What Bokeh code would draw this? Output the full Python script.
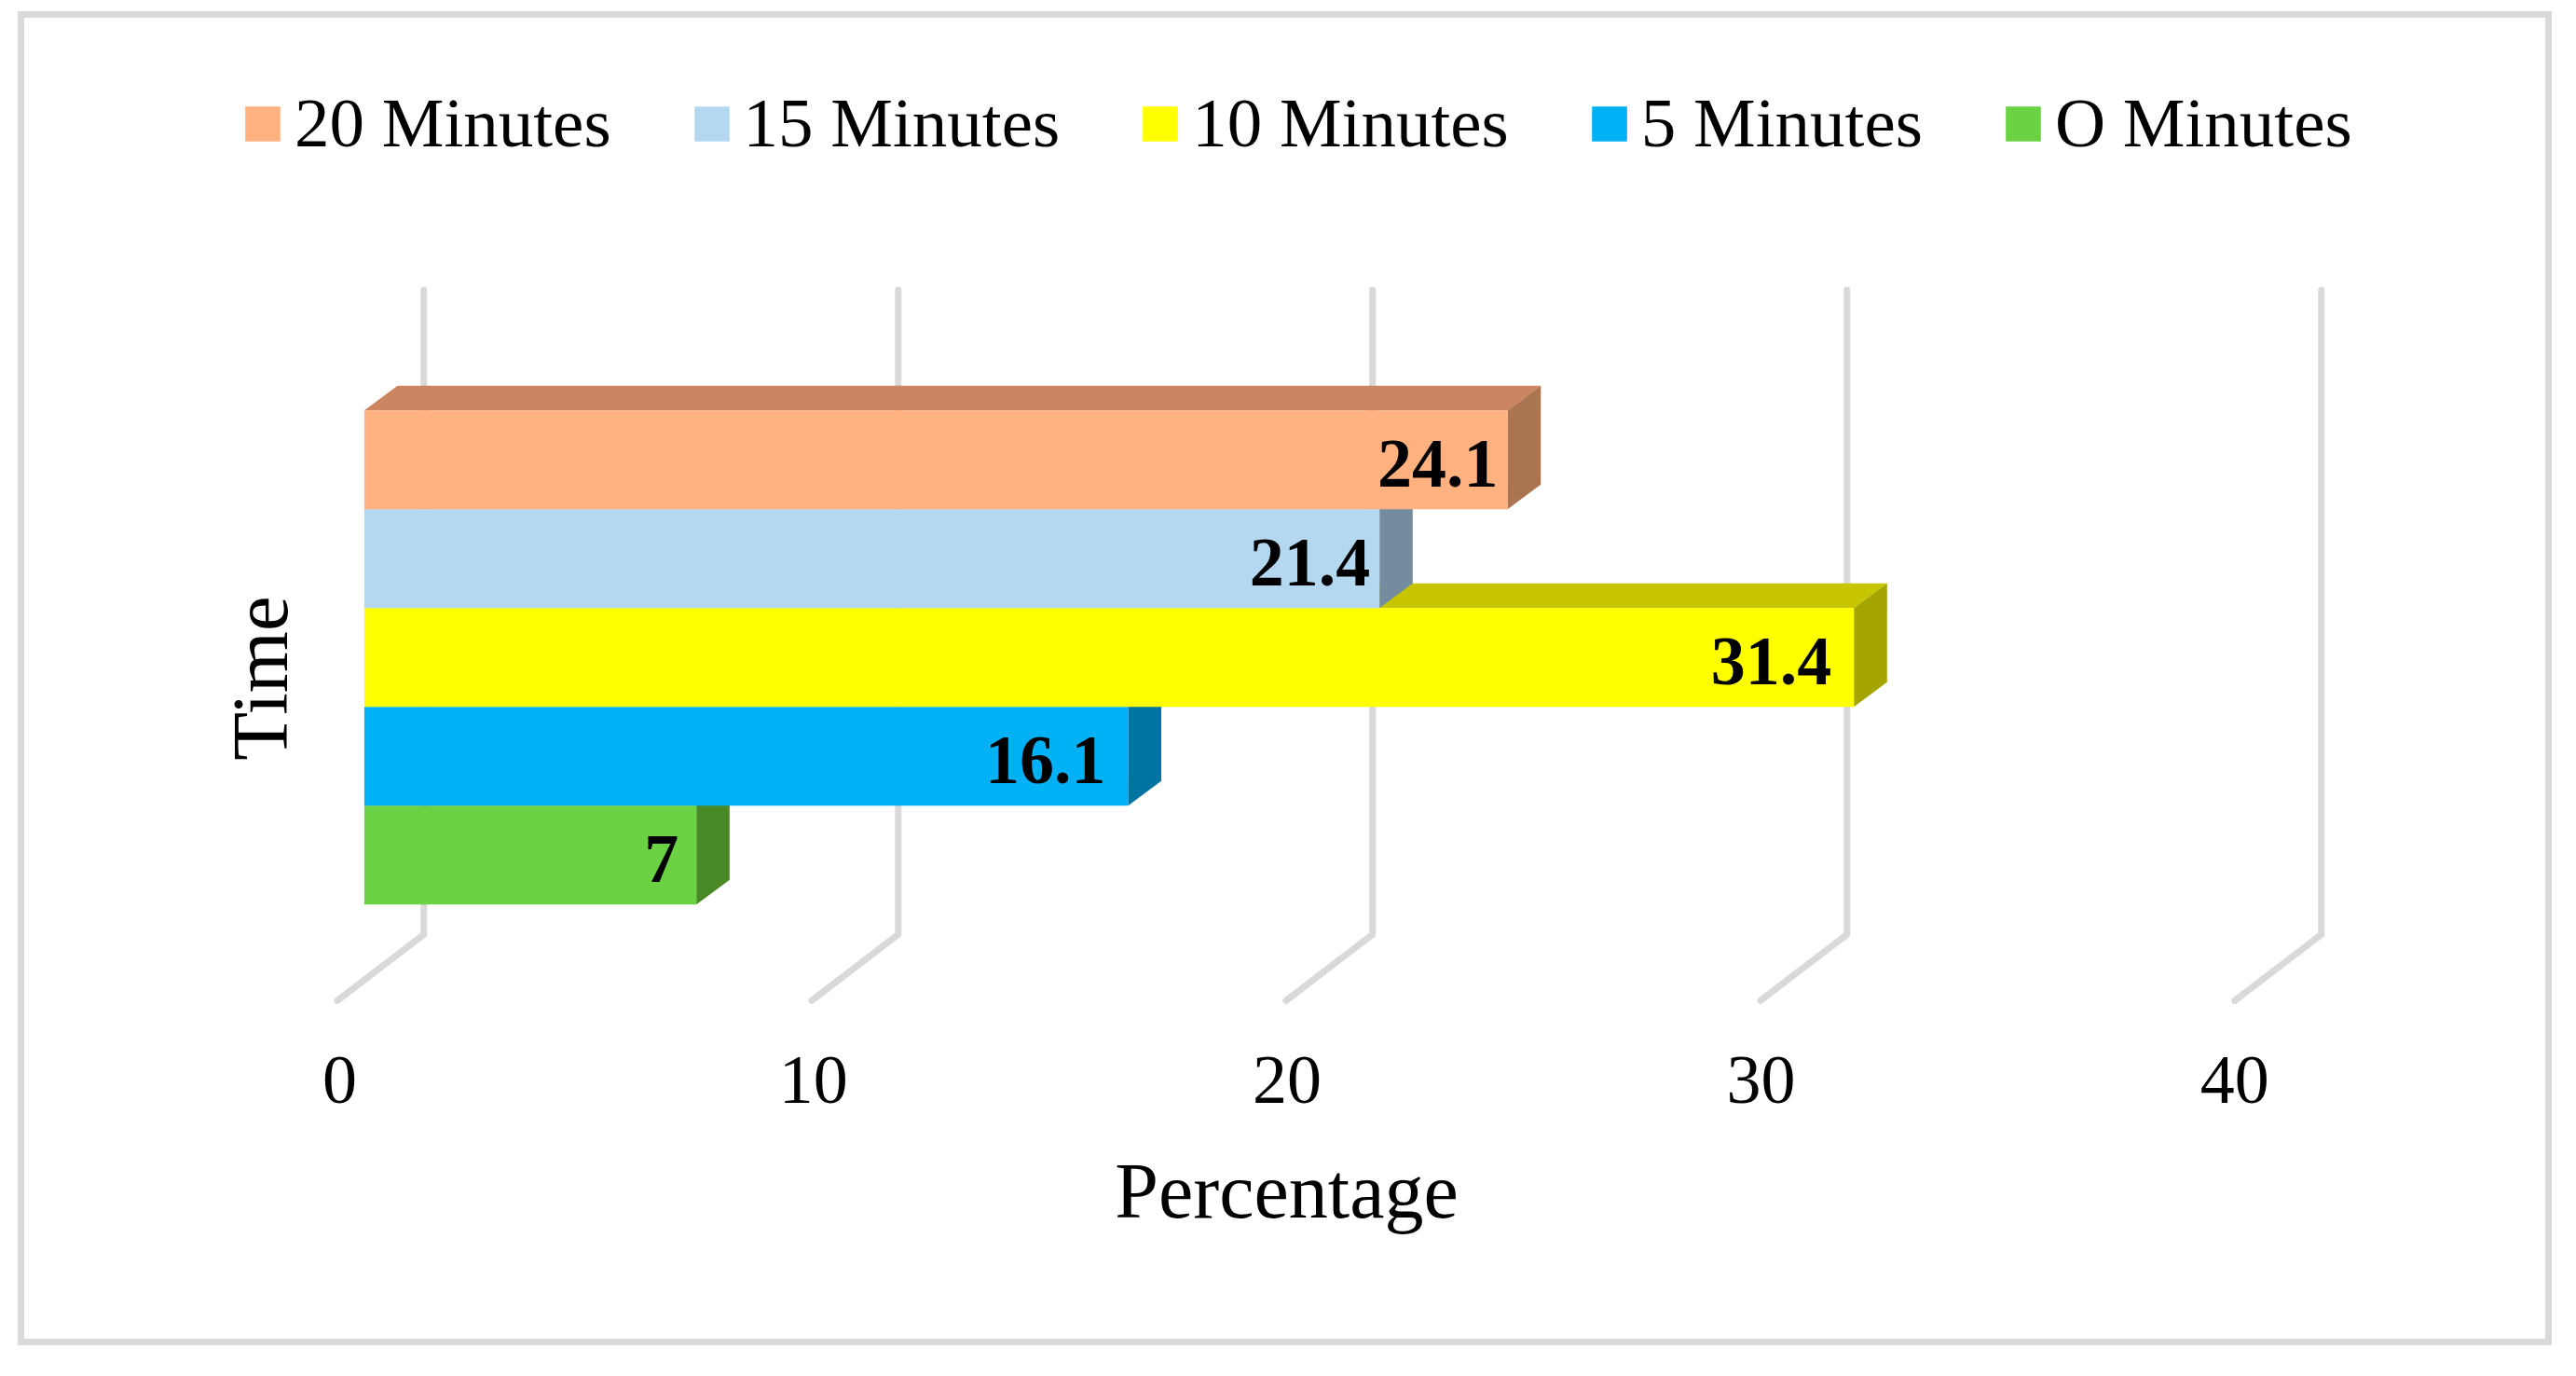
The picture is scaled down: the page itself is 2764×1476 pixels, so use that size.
from bokeh.embed import file_html
from bokeh.resources import INLINE
from bokeh.plotting import figure
from bokeh.models import Range1d, LinearAxis, FixedTicker, Legend, LegendItem
from bokeh.core.properties import value

# --- data, listed from bottom bar to top bar ---
categories = ["O Minutes", "5 Minutes", "10 Minutes", "15 Minutes", "20 Minutes"]
percentages = [7, 16.1, 31.4, 21.4, 24.1]
value_labels = ["7", "16.1", "31.4", "21.4", "24.1"]
front_colors = ["#6BD343", "#00B2F5", "#FFFF00", "#B4D8F0", "#FFB27F"]
top_colors = ["#4F9E30", "#0086B8", "#C7C400", "#87A2B4", "#CC8560"]
side_colors = ["#488825", "#0074A0", "#A5A500", "#738C9E", "#AB7552"]
x_ticks = [0, 10, 20, 30, 40]

FONT = "Liberation Serif"
GRID = "#d9d9d9"
DEPTH_X = 0.70
DEPTH_Y = 0.25
WALL_SHIFT = 1.255
FLOOR_SHIFT = -0.57
WALL_TOP = 5.72
WALL_BOTTOM = -0.803
FLOOR_FRONT = -1.473
LABEL_GAPS = [-19, -24, -24, -10, -10]

p = figure(width=2743, height=1455, output_backend="svg", toolbar_location=None,
           x_range=Range1d((230 - 390.4) / 50.9, (2530 - 390.4) / 50.9), y_range=Range1d(-2.04, 7.848),
           x_axis_location=None, y_axis_location=None,
           min_border_left=223, min_border_right=220, min_border_top=85, min_border_bottom=322,
           outline_line_color=None, background_fill_color=None, border_fill_color=None)
p.grid.visible = False
# chart border
p.styles = {"margin-left": "7px", "outline": f"7px solid {GRID}", "outline-offset": "-19.5px"}

p.extra_x_ranges["ticks"] = Range1d((230 - 364) / 50.83, (2530 - 364) / 50.83)
xaxis = LinearAxis(x_range_name="ticks", ticker=FixedTicker(ticks=x_ticks),
                   axis_label="Percentage", axis_line_color=None,
                   major_tick_line_color=None, minor_tick_line_color=None,
                   major_label_text_font=FONT, major_label_text_font_size="74px",
                   major_label_text_color="black", major_label_standoff=-6,
                   axis_label_text_font=FONT, axis_label_text_font_size="84px",
                   axis_label_text_font_style="normal", axis_label_text_color="black",
                   axis_label_standoff=45)
p.add_layout(xaxis, "below")

# back wall and floor lines
p.multi_line(xs=[[t + FLOOR_SHIFT, t + WALL_SHIFT, t + WALL_SHIFT] for t in x_ticks],
             ys=[[FLOOR_FRONT, WALL_BOTTOM, WALL_TOP] for t in x_ticks],
             line_color=GRID, line_width=7, line_cap="round", line_join="round")

# bars, drawn from bottom to top so each one covers the faces behind it
items = {}
for i, (name, v) in enumerate(zip(categories, percentages)):
    top = i + 0.5
    bot = i - 0.5
    p.patch([0, DEPTH_X, v + DEPTH_X, v], [top, top + DEPTH_Y, top + DEPTH_Y, top],
            fill_color=top_colors[i], line_color=None)
    p.patch([v, v + DEPTH_X, v + DEPTH_X, v], [bot, bot + DEPTH_Y, top + DEPTH_Y, top],
            fill_color=side_colors[i], line_color=None)
    items[name] = p.hbar(y=[i], left=[0], right=[v], height=1.0,
                         fill_color=front_colors[i], line_color=None)

for i, v in enumerate(percentages):
    p.text(x=[v], y=[i], text=[value_labels[i]],
           x_offset=LABEL_GAPS[i], y_offset=4, text_align="right", text_baseline="middle",
           text_font=value(FONT), text_font_style="bold", text_font_size="74px", text_color="black")

# y axis title
p.text(x=[-2.2], y=[1.79], text=["Time"], angle=1.5708, text_align="center", text_baseline="middle",
       text_font=value(FONT), text_font_size="85px", text_color="black")

legend = Legend(items=[LegendItem(label=n, renderers=[items[n]]) for n in reversed(categories)],
                orientation="horizontal", location=(28, 958), background_fill_alpha=0,
                border_line_color=None, padding=0, margin=0, spacing=84,
                glyph_width=47, glyph_height=47, label_standoff=11,
                label_text_font=FONT, label_text_font_size="75px", label_text_color="black")
p.add_layout(legend)

open("out.html", "w").write(file_html(p, INLINE))
